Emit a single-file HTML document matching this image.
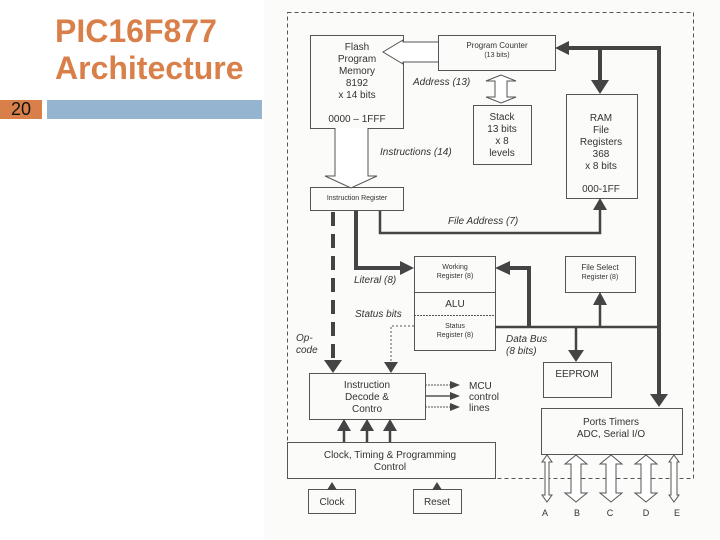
<!DOCTYPE html>
<html><head><meta charset="utf-8"><style>
html,body{margin:0;padding:0;background:#fff;}
body{width:720px;height:540px;position:relative;overflow:hidden;font-family:"Liberation Sans",sans-serif;}
.t{position:absolute;left:55px;color:#d9804a;font-size:32px;font-weight:bold;line-height:36px;}
</style></head><body>
<div class="t" style="top:13px">PIC16F877</div>
<div class="t" style="top:50px">Architecture</div>
<div style="position:absolute;left:0;top:100px;width:42px;height:19px;background:#d9804a;color:#111;font-size:18px;line-height:19px;text-align:center">20</div>
<div style="position:absolute;left:47px;top:100px;width:215px;height:19px;background:#94b4d0"></div>
<div style="position:absolute;left:264px;top:0;width:456px;height:540px;background:#fbfbfa"></div>
<svg width="720" height="540" style="position:absolute;left:0;top:0" font-family="Liberation Sans, sans-serif" fill="#333">
<g fill="none" stroke="#555" stroke-width="1">
<rect x="287.5" y="12.5" width="406" height="466" stroke-dasharray="4,3"/>
<rect x="310.5" y="35.5" width="93" height="93"/>
<rect x="438.5" y="35.5" width="117" height="35"/>
<rect x="473.5" y="105.5" width="58" height="59"/>
<rect x="566.5" y="94.5" width="71" height="104"/>
<rect x="310.5" y="187.5" width="93" height="23"/>
<rect x="414.5" y="256.5" width="81" height="94"/>
<line x1="414" y1="292.5" x2="495" y2="292.5"/>
<line x1="414" y1="315.5" x2="495" y2="315.5" stroke-dasharray="2,1"/>
<rect x="565.5" y="256.5" width="70" height="36"/>
<rect x="543.5" y="362.5" width="68" height="35"/>
<rect x="309.5" y="373.5" width="116" height="46"/>
<rect x="287.5" y="442.5" width="208" height="36"/>
<rect x="308.5" y="489.5" width="47" height="24"/>
<rect x="413.5" y="489.5" width="48" height="24"/>
<rect x="541.5" y="408.5" width="141" height="46"/>
<path d="M438,42H403L403,40L383,52L403,64V62H438" fill="#fff"/>
<path d="M335,128V176H325L351,188L377,176H368V128" fill="#fff"/>
<path d="M501,75L486,81H495V97H486L501,103L516,97H507V81H516Z" fill="#fff"/>
</g>
<g fill="#fff" stroke="#555">
<path d="M547,455L552,462H549V495H552L547,502L542,495H545V462H542Z"/>
<path d="M576,455L587,464H581V493H587L576,502L565,493H571V464H565Z"/>
<path d="M611,455L622,464H616V493H622L611,502L600,493H606V464H600Z"/>
<path d="M646,455L657,464H651V493H657L646,502L635,493H641V464H635Z"/>
<path d="M674,455L679,462H677V495H679L674,502L669,495H671V462H669Z"/>
</g>
<g fill="none" stroke="#444" stroke-width="4">
<path d="M659,48H569"/>
<path d="M659,46V396"/>
<path d="M600,48V82"/>
<path d="M333,212V362" stroke-dasharray="14,8"/>
<path d="M356,211V268H402"/>
<path d="M529,327V268H510"/>
</g>
<g fill="#444">
<path d="M650,394L668,394L659,407Z"/>
<path d="M591,80L609,80L600,94Z"/>
<path d="M555,48L569,41L569,55Z"/>
<path d="M324,360L342,360L333,373Z"/>
<path d="M400,261L414,268L400,275Z"/>
<path d="M495,268L510,261L510,275Z"/>
<path d="M593,210L607,210L600,198Z"/>
<path d="M593,305L607,305L600,292Z"/>
<path d="M568,350L584,350L576,362Z"/>
<path d="M384,362L398,362L391,373Z"/>
<path d="M337,431L351,431L344,419Z"/>
<path d="M360,431L374,431L367,419Z"/>
<path d="M383,431L397,431L390,419Z"/>
<path d="M327,490L337,490L332,482Z"/>
<path d="M432,490L442,490L437,482Z"/>
<path d="M450,381L460,385L450,389Z"/>
<path d="M450,392L460,396L450,400Z"/>
<path d="M450,403L460,407L450,411Z"/>
</g>
<g fill="none" stroke="#444" stroke-width="2.5">
<path d="M380,211V233H600V208"/>
<path d="M495,327H659"/>
<path d="M600,327V303"/>
<path d="M576,327V352"/>
<path d="M344,442V429M367,442V429M390,442V429"/>
<path d="M332,489V484M437,489V484"/>
</g>
<g fill="none" stroke="#555" stroke-width="1">
<path d="M414,326H391V362" stroke-dasharray="2,2"/>
<path d="M425,385H450M425,407H450" stroke-dasharray="2,1"/>
<path d="M425,396H450" stroke-width="1.5"/>
</g>
<g font-size="10" text-anchor="middle">
<text x="357" y="50">Flash</text><text x="357" y="62">Program</text><text x="357" y="74">Memory</text><text x="357" y="86">8192</text><text x="357" y="98">x 14 bits</text><text x="357" y="122">0000 – 1FFF</text>
<text x="497" y="48" font-size="8">Program Counter</text><text x="497" y="57" font-size="7">(13 bits)</text>
<text x="502" y="120">Stack</text><text x="502" y="132">13 bits</text><text x="502" y="144">x 8</text><text x="502" y="156">levels</text>
<text x="601" y="121">RAM</text><text x="601" y="133">File</text><text x="601" y="145">Registers</text><text x="601" y="157">368</text><text x="601" y="169">x 8 bits</text><text x="601" y="192">000-1FF</text>
<text x="357" y="200" font-size="7">Instruction Register</text>
<text x="455" y="269" font-size="7">Working</text><text x="455" y="278" font-size="7">Register (8)</text>
<text x="455" y="307">ALU</text>
<text x="455" y="328" font-size="7">Status</text><text x="455" y="337" font-size="7">Register (8)</text>
<text x="600" y="270" font-size="8">File Select</text><text x="600" y="279" font-size="7">Register (8)</text>
<text x="577" y="377">EEPROM</text>
<text x="367" y="388">Instruction</text><text x="367" y="400">Decode &amp;</text><text x="367" y="412">Contro</text>
<text x="390" y="458">Clock, Timing &amp; Programming</text><text x="390" y="470">Control</text>
<text x="332" y="505">Clock</text><text x="437" y="505">Reset</text>
<text x="611" y="425">Ports Timers</text><text x="611" y="437">ADC, Serial I/O</text>
<text x="545" y="516" font-size="9">A</text><text x="577" y="516" font-size="9">B</text><text x="610" y="516" font-size="9">C</text><text x="646" y="516" font-size="9">D</text><text x="677" y="516" font-size="9">E</text>
</g>
<g font-size="10" font-style="italic">
<text x="413" y="85">Address (13)</text>
<text x="380" y="155">Instructions (14)</text>
<text x="448" y="224">File Address (7)</text>
<text x="354" y="283">Literal (8)</text>
<text x="355" y="317">Status bits</text>
<text x="506" y="342">Data Bus</text><text x="506" y="354">(8 bits)</text>
<text x="296" y="341">Op-</text><text x="296" y="353">code</text>
</g>
<g font-size="10"><text x="469" y="389">MCU</text><text x="469" y="400">control</text><text x="469" y="411">lines</text></g>
</svg>
</body></html>
